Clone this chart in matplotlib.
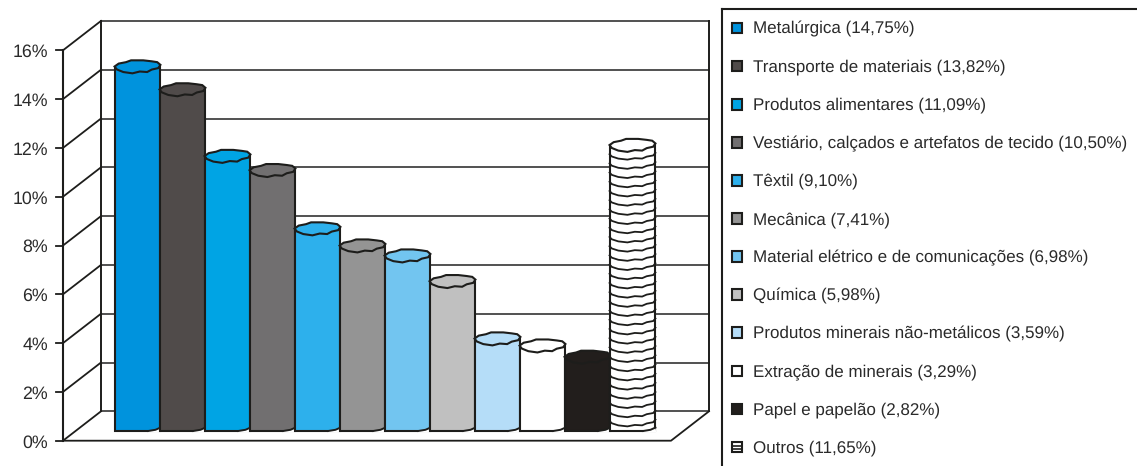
# plot.py
import numpy as np
import matplotlib
matplotlib.use('Agg')
import matplotlib.pyplot as plt
from matplotlib.patches import Rectangle, Polygon

plt.rcParams['font.family'] = ['Liberation Sans', 'DejaVu Sans']
plt.rcParams['text.hinting'] = 'none'

# bar heights as drawn (the Textil bar is lower than its legend label says)
bar_values = [14.72, 13.78, 11.05, 10.47, 8.08, 7.38, 6.97, 5.92, 3.57, 3.28, 2.82, 11.5]
legend_labels = [
    'Metalúrgica (14,75%)',
    'Transporte de materiais (13,82%)',
    'Produtos alimentares (11,09%)',
    'Vestiário, calçados e artefatos de tecido (10,50%)',
    'Têxtil (9,10%)',
    'Mecânica (7,41%)',
    'Material elétrico e de comunicações (6,98%)',
    'Química (5,98%)',
    'Produtos minerais não-metálicos (3,59%)',
    'Extração de minerais (3,29%)',
    'Papel e papelão (2,82%)',
    'Outros (11,65%)',
]
bar_colors = ['#0093DD', '#504B4A', '#00A4E4', '#716F70', '#2DB0EC', '#949494',
              '#72C5F0', '#C0C0C0', '#B5DDF8', '#FFFFFF', '#221E1C', '#FFFFFF']
y_ticks = [0, 2, 4, 6, 8, 10, 12, 14, 16]

W, H = 1137, 466
LINE = '#1d1d1b'

# scale of the chart: 45 px per category, 24.4 px per percent
PX_X = 45.0
PX_Y = 24.4
X0_PX = 137.5
Y0_PX = 426.0

# depth of the 3d box, half to the front and half to the back
DX = 19.0 / PX_X
DY = 14.7 / PX_Y
LEFT = (82.0 - X0_PX) / PX_X
RIGHT = (690.0 - X0_PX) / PX_X

# lumpy outline of the cylinder tops, as fractions of the half width/height
cap_x = np.array([-1.0, -0.82, -0.5, -0.28, 0.25, 0.62, 0.86, 1.0,
                  0.9, 0.62, 0.42, 0.1, -0.22, -0.62, -0.9])
cap_y = np.array([0.05, 0.5, 0.72, 1.0, 1.0, 0.85, 0.72, 0.3,
                  -0.2, -0.42, -0.8, -0.72, -1.0, -0.8, -0.4])
CAP_H = 6.5 / PX_Y
BAR_HALF = 0.51
BAR_BOTTOM = -5.0 / PX_Y


fig = plt.figure(figsize=(W / 100, H / 100), dpi=100)
ax = fig.add_axes([0, 0, 1, 1])
ax.set_xlim(-X0_PX / PX_X, (W - X0_PX) / PX_X)
ax.set_ylim((Y0_PX - H) / PX_Y, Y0_PX / PX_Y)
ax.axis('off')

# back wall gridlines and the slanted lines on the side wall
for t in y_ticks:
    ax.plot([LEFT + DX, RIGHT + DX], [t + DY, t + DY], color='#333333', lw=1.2, zorder=1)
    ax.plot([LEFT - DX, LEFT + DX], [t - DY, t + DY], color=LINE, lw=1.3, zorder=1)
    ax.plot([LEFT - DX - 7 / PX_X, LEFT - DX], [t - DY, t - DY], color=LINE, lw=1.3, zorder=1)
    ax.text(LEFT - DX - 15 / PX_X, t - DY - 2 / PX_Y, f'{t}%', ha='right', va='center',
            fontsize=12.8, color='#2a2a2a')

# box edges
ax.plot([LEFT + DX, LEFT + DX], [DY, 16 + DY], color=LINE, lw=1.4, zorder=1)
ax.plot([RIGHT + DX, RIGHT + DX], [DY, 16 + DY], color=LINE, lw=1.4, zorder=1)
ax.plot([LEFT - DX, LEFT - DX], [-DY, 16 - DY], color=LINE, lw=1.5, zorder=1)
ax.plot([LEFT - DX, RIGHT - DX, RIGHT + DX], [-DY, -DY, DY], color=LINE, lw=1.3, zorder=1)

for i, (v, c) in enumerate(zip(bar_values, bar_colors)):
    z = 3 + i
    ax.bar(i, v - BAR_BOTTOM, bottom=BAR_BOTTOM, width=2 * BAR_HALF, color=c,
           edgecolor=LINE, linewidth=1.5, zorder=z)
    cap = np.column_stack([i + cap_x * BAR_HALF, v + cap_y * CAP_H])
    ax.add_patch(Polygon(cap, closed=True, facecolor=c, edgecolor=LINE, lw=1.5, zorder=z + 0.5))
    # the bottom right corner of each cylinder is cut away
    corner = [(i + BAR_HALF + 0.02, BAR_BOTTOM - 0.06), (i + 0.24, BAR_BOTTOM - 0.06),
              (i + 0.24, BAR_BOTTOM), (i + 0.4, BAR_BOTTOM + 0.05), (i + BAR_HALF, BAR_BOTTOM + 0.14)]
    ax.add_patch(Polygon(corner, closed=True, facecolor='white', edgecolor='none', zorder=z + 0.2))
    ax.plot([i + 0.24, i + 0.4, i + BAR_HALF], [BAR_BOTTOM, BAR_BOTTOM + 0.05, BAR_BOTTOM + 0.14],
            color=LINE, lw=1.4, zorder=z + 0.3)

# the Outros bar is striped with the front arc of the cylinder
order = np.array([0, 14, 13, 12, 11, 10, 9, 8, 7])
n = len(bar_values) - 1
for s in np.arange(bar_values[n] - 0.37, BAR_BOTTOM + 0.2, -0.377):
    ax.plot(n + cap_x[order] * BAR_HALF, s + cap_y[order] * CAP_H * 0.8, color=LINE, lw=1.3, zorder=20)

# legend panel, x in pixels and y in rows
lax = fig.add_axes([722 / W, 0, (W - 722) / W, (H - 9) / H])
lax.set_xlim(722, W)
lax.set_ylim((H - 28) / 38.1, -(28 - 9) / 38.1)
lax.set_xticks([])
lax.set_yticks([])
for side in ['right', 'bottom']:
    lax.spines[side].set_visible(False)
for side in ['left', 'top']:
    lax.spines[side].set_linewidth(1.5)
    lax.spines[side].set_color(LINE)

for i, (label, c) in enumerate(zip(legend_labels, bar_colors)):
    lax.add_patch(Rectangle((732, i - 0.14), 10, 0.28, facecolor=c, edgecolor=LINE, lw=1.5))
    if i == len(legend_labels) - 1:
        lax.plot([732, 742], [i - 0.03, i - 0.03], color=LINE, lw=1.2)
        lax.plot([732, 742], [i + 0.06, i + 0.06], color=LINE, lw=1.2)
    lax.text(753, i + 0.03, label, va='center', ha='left', fontsize=12.25, color='#2a2a2a')

fig.savefig('out.png', dpi=100)
